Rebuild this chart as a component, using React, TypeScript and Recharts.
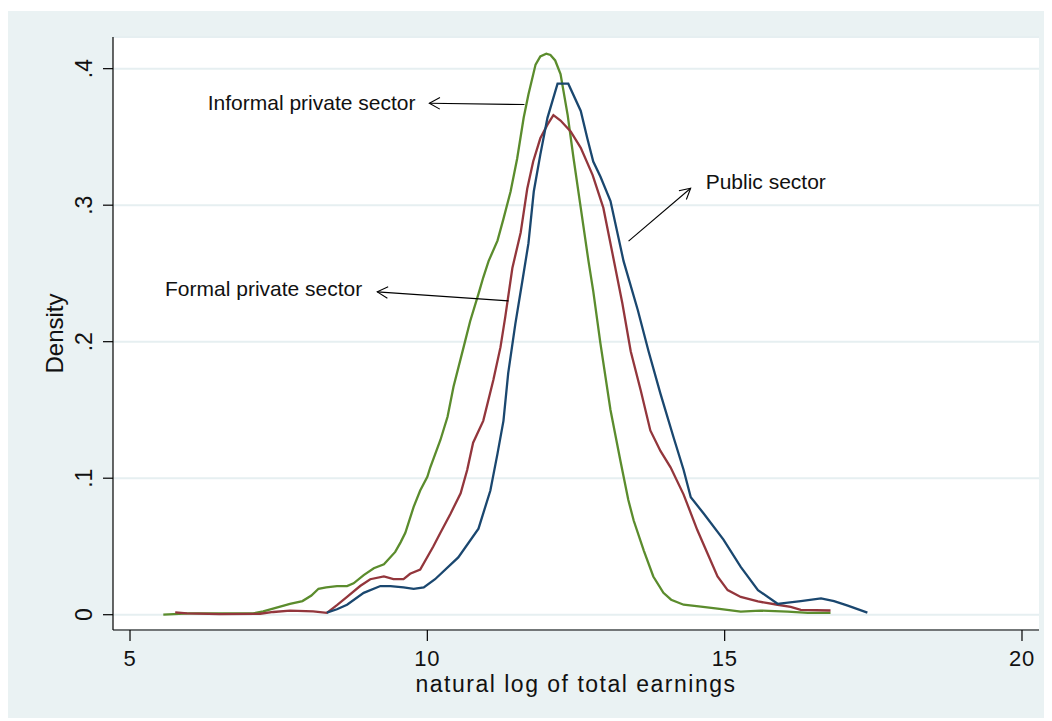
import { LineChart, Line, XAxis, YAxis, CartesianGrid, ReferenceLine, ReferenceDot, Label } from 'recharts'

// kernel density of log earnings
const informalX = [5.56, 6.0, 6.5, 7.07, 7.24, 7.45, 7.69, 7.9, 8.05, 8.17, 8.3, 8.48, 8.65, 8.76, 8.93, 9.1, 9.27, 9.46, 9.55, 9.63, 9.77, 9.88, 10.0, 10.05, 10.22, 10.34, 10.44, 10.61, 10.72, 10.86, 10.94, 11.03, 11.18, 11.28, 11.4, 11.51, 11.62, 11.7, 11.82, 11.9, 12.0, 12.07, 12.15, 12.24, 12.36, 12.46, 12.58, 12.71, 12.79, 12.91, 13.08, 13.25, 13.38, 13.47, 13.64, 13.8, 13.97, 14.1, 14.31, 14.6, 14.88, 15.27, 15.6, 16.06, 16.4, 16.78]
const informalY = [0, 0.001, 0.001, 0.001, 0.0024, 0.005, 0.008, 0.01, 0.014, 0.019, 0.02, 0.021, 0.021, 0.023, 0.029, 0.034, 0.037, 0.046, 0.053, 0.06, 0.079, 0.091, 0.101, 0.108, 0.128, 0.145, 0.167, 0.196, 0.215, 0.235, 0.247, 0.259, 0.274, 0.29, 0.31, 0.334, 0.364, 0.381, 0.403, 0.409, 0.411, 0.41, 0.406, 0.396, 0.366, 0.334, 0.298, 0.259, 0.237, 0.199, 0.15, 0.112, 0.084, 0.069, 0.047, 0.028, 0.016, 0.011, 0.0073, 0.006, 0.0044, 0.0022, 0.003, 0.0022, 0.0014, 0.0014]

const formalX = [5.76, 5.96, 6.5, 7.19, 7.41, 7.69, 8.08, 8.31, 8.48, 8.65, 8.87, 9.04, 9.27, 9.43, 9.6, 9.71, 9.88, 10.1, 10.22, 10.39, 10.56, 10.67, 10.77, 10.94, 11.11, 11.23, 11.31, 11.43, 11.57, 11.68, 11.78, 11.9, 12.02, 12.12, 12.24, 12.41, 12.58, 12.78, 12.96, 13.13, 13.28, 13.42, 13.59, 13.75, 13.92, 14.09, 14.31, 14.54, 14.71, 14.88, 15.05, 15.27, 15.56, 15.89, 16.11, 16.28, 16.78]
const formalY = [0.0017, 0.001, 0.0005, 0.0007, 0.002, 0.003, 0.0024, 0.0014, 0.007, 0.013, 0.021, 0.026, 0.028, 0.026, 0.026, 0.03, 0.033, 0.05, 0.06, 0.074, 0.089, 0.106, 0.126, 0.142, 0.172, 0.196, 0.218, 0.254, 0.28, 0.312, 0.332, 0.349, 0.359, 0.366, 0.362, 0.354, 0.342, 0.322, 0.298, 0.261, 0.228, 0.193, 0.164, 0.135, 0.12, 0.108, 0.088, 0.062, 0.045, 0.028, 0.018, 0.013, 0.0097, 0.0073, 0.0058, 0.0036, 0.0031]

const publicX = [8.31, 8.48, 8.65, 8.93, 9.21, 9.38, 9.6, 9.77, 9.94, 10.13, 10.52, 10.86, 11.06, 11.18, 11.28, 11.36, 11.48, 11.6, 11.7, 11.79, 11.9, 12.02, 12.19, 12.37, 12.58, 12.69, 12.79, 12.91, 13.08, 13.3, 13.54, 13.72, 13.92, 14.14, 14.31, 14.43, 14.65, 14.98, 15.27, 15.56, 15.89, 16.28, 16.62, 16.84, 17.07, 17.4]
const publicY = [0.0015, 0.004, 0.0073, 0.016, 0.021, 0.021, 0.02, 0.019, 0.02, 0.026, 0.042, 0.063, 0.091, 0.118, 0.142, 0.177, 0.213, 0.245, 0.272, 0.31, 0.337, 0.364, 0.389, 0.389, 0.369, 0.349, 0.332, 0.321, 0.303, 0.259, 0.223, 0.193, 0.162, 0.13, 0.106, 0.086, 0.074, 0.055, 0.035, 0.018, 0.008, 0.01, 0.012, 0.01, 0.0066, 0.0015]

const xTicks = [5, 10, 15, 20]
const yTicks = [0, 0.1, 0.2, 0.3, 0.4]
const yTickLabels = ['0', '.1', '.2', '.3', '.4']

// annotation text + arrow (from tail to head), in data units
const notes = [
  { text: 'Informal private sector', tx: 9.8, ty: 0.375, anchor: 'end', from: [11.633, 0.3737], to: [10.034, 0.3747] },
  { text: 'Public sector', tx: 14.68, ty: 0.3174, anchor: 'start', from: [13.384, 0.2737], to: [14.428, 0.3124] },
  { text: 'Formal private sector', tx: 8.906, ty: 0.239, anchor: 'end', from: [11.364, 0.2299], to: [9.158, 0.2365] },
]

const zip = (xs: number[], ys: number[]) => xs.map((x, i) => ({ x, y: ys[i] }))

const FONT = '"Liberation Sans", Arial, Helvetica, sans-serif'

function Arrow(p: any) {
  const { x1, y1, x2, y2 } = p
  const a = Math.atan2(y2 - y1, x2 - x1)
  const len = 12, spread = 0.5
  const h1 = [x2 - len * Math.cos(a - spread), y2 - len * Math.sin(a - spread)]
  const h2 = [x2 - len * Math.cos(a + spread), y2 - len * Math.sin(a + spread)]
  return (
    <g stroke="#000" strokeWidth={1.1} fill="none">
      <line x1={x1} y1={y1} x2={x2} y2={y2} />
      <polyline points={`${h1[0]},${h1[1]} ${x2},${y2} ${h2[0]},${h2[1]}`} />
    </g>
  )
}

function XTick(p: any) {
  return (
    <text x={p.x} y={p.y + 23} textAnchor="middle" fontSize={22} letterSpacing={0.8} fontFamily={FONT} fill="#111">
      {p.payload.value}
    </text>
  )
}

function YTick(p: any) {
  const i = yTicks.indexOf(p.payload.value)
  return (
    <text transform={`translate(${p.x - 9},${p.y}) rotate(-90)`} textAnchor="middle" fontSize={23} fontFamily={FONT} fill="#111">
      {yTickLabels[i]}
    </text>
  )
}

export default function App() {
  return (
    <div style={{ position: 'relative', top: 3, width: 1044, height: 710, background: '#eaf2f3' }}>
      <LineChart width={1044} height={710} margin={{ top: 26, right: 13, bottom: 31, left: 45 }}>
        <CartesianGrid vertical={false} stroke="#e6eff1" strokeWidth={2} fill="#ffffff" fillOpacity={1} />
        <XAxis type="number" dataKey="x" domain={[4.714, 20.286]} ticks={xTicks} allowDataOverflow
          height={60} tickSize={11} tickMargin={2} stroke="#000" strokeWidth={1.2} tick={<XTick />}>
          <Label content={(lp: any) => (
            <text x={lp.viewBox.x + lp.viewBox.width / 2} y={lp.viewBox.y + 62} textAnchor="middle"
              fontSize={23} letterSpacing={1.5} fontFamily={FONT} fill="#111">natural log of total earnings</text>
          )} />
        </XAxis>
        <YAxis type="number" domain={[-0.0112, 0.4232]} ticks={yTicks} allowDataOverflow
          width={60} tickSize={10} tickMargin={2} stroke="#000" strokeWidth={1.2} tick={<YTick />}>
          <Label content={(lp: any) => (
            <text transform={`translate(${lp.viewBox.x + 10},${lp.viewBox.y + lp.viewBox.height / 2}) rotate(-90)`}
              textAnchor="middle" fontSize={24} fontFamily={FONT} fill="#111">Density</text>
          )} />
        </YAxis>
        <Line data={zip(informalX, informalY)} dataKey="y" type="linear" stroke="#5b8c2d" strokeWidth={2.3} dot={false} isAnimationActive={false} />
        <Line data={zip(formalX, formalY)} dataKey="y" type="linear" stroke="#93363c" strokeWidth={2.3} dot={false} isAnimationActive={false} />
        <Line data={zip(publicX, publicY)} dataKey="y" type="linear" stroke="#1a476f" strokeWidth={2.3} dot={false} isAnimationActive={false} />
        {notes.map((n) => (
          <ReferenceLine key={'a' + n.text} segment={[{ x: n.from[0], y: n.from[1] }, { x: n.to[0], y: n.to[1] }]}
            shape={(p: any) => <Arrow {...p} />} ifOverflow="visible" />
        ))}
        {notes.map((n) => (
          <ReferenceDot key={'t' + n.text} x={n.tx} y={n.ty} r={0} ifOverflow="visible"
            shape={(p: any) => (
              <text x={p.cx} y={p.cy + 7.5} textAnchor={n.anchor} fontSize={21} fontFamily={FONT} fill="#111">{n.text}</text>
            )} />
        ))}
      </LineChart>
    </div>
  )
}
